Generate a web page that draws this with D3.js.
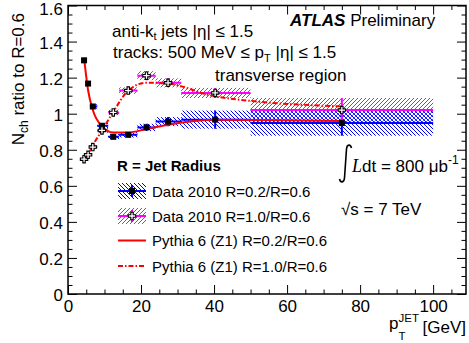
<!DOCTYPE html>
<html>
<head>
<meta charset="utf-8">
<script src="https://cdn.jsdelivr.net/npm/d3@7"></script>
<style>
  body { margin: 0; background: #fff; }
  svg text { font-family: "Liberation Sans", Arial, Helvetica, sans-serif; }
</style>
</head>
<body>
<svg id="chart" width="469" height="343"></svg>
<script>
// jet pT bins (GeV)
const pt = [4.4, 5.5, 6.8, 9.3, 12.4, 16.5, 21.5, 27.4, 40.3, 75]
const ptLo = [4, 5, 6, 8, 11, 14, 19, 24, 31, 50]
const ptHi = [5, 6, 8, 11, 14, 19, 24, 31, 50, 100]

// Data 2010, R=0.2 / R=0.6
const data02 = [1.296, 1.167, 1.04, 0.933, 0.872, 0.883, 0.924, 0.956, 0.967, 0.948]
const err02 = [0.01, 0.01, 0.012, 0.015, 0.015, 0.015, 0.02, 0.025, 0.05, 0.07]

// Data 2010, R=1.0 / R=0.6
const data10 = [0.748, 0.772, 0.815, 0.907, 1.007, 1.128, 1.211, 1.171, 1.115, 1.02]
const err10 = [0.01, 0.01, 0.012, 0.015, 0.015, 0.018, 0.025, 0.025, 0.028, 0.067]

// Pythia 6 (Z1)
const pythia02 = [1.31, 1.13, 1.02, 0.93, 0.896, 0.896, 0.915, 0.939, 0.967, 0.96]
const pythia10 = [0.744, 0.772, 0.825, 0.906, 1.01, 1.128, 1.172, 1.167, 1.096, 1.04]

const xMajor = [0, 20, 40, 60, 80, 100]
const yMajor = [0, 0.2, 0.4, 0.6, 0.8, 1, 1.2, 1.4, 1.6]

const svg = d3.select('#chart')
const frameL = 68, frameR = 466, frameT = 5.5, frameB = 294

const x = d3.scaleLinear().domain([0, 109]).range([frameL, frameR])
const y = d3.scaleLinear().domain([0, 1.6]).range([frameB, frameT])

const BLUE = '#0000ff', MAGENTA = '#ff00ff', RED = '#ff0000'

// hatch patterns
const defs = svg.append('defs')
const hatch = (id, color, d) => {
  defs.append('pattern')
    .attr('id', id)
    .attr('patternUnits', 'userSpaceOnUse')
    .attr('width', 4).attr('height', 4)
    .append('path')
    .attr('d', d)
    .attr('stroke', color)
    .attr('stroke-width', 1)
}
hatch('hatchBlue', BLUE, 'M0,0L4,4M-1,3L1,5M3,-1L5,1')
hatch('hatchMagenta', MAGENTA, 'M0,4L4,0M-1,1L1,-1M3,5L5,3')

defs.append('clipPath').attr('id', 'frame')
  .append('rect')
  .attr('x', frameL).attr('y', frameT)
  .attr('width', frameR - frameL).attr('height', frameB - frameT)

const plot = svg.append('g').attr('clip-path', 'url(#frame)')

const rows = (vals, errs) => pt.map((p, i) => ({ p, lo: ptLo[i], hi: ptHi[i], v: vals[i], e: errs[i] }))
const rows02 = rows(data02, err02)
const rows10 = rows(data10, err10)

// systematic bands
const band = (data, fillId) => {
  plot.append('g')
    .selectAll('rect')
    .data(data)
    .enter()
    .append('rect')
    .attr('x', d => x(d.lo))
    .attr('width', d => x(d.hi) - x(d.lo))
    .attr('y', d => y(d.v + d.e))
    .attr('height', d => y(d.v - d.e) - y(d.v + d.e))
    .attr('fill', `url(#${fillId})`)
}
band(rows02, 'hatchBlue')
band(rows10, 'hatchMagenta')

// error bars
const errorBars = (data, color) => {
  const g = plot.append('g').attr('stroke', color).attr('stroke-width', 2)
  g.selectAll('line.h')
    .data(data)
    .enter()
    .append('line')
    .attr('class', 'h')
    .attr('x1', d => x(d.lo)).attr('x2', d => x(d.hi))
    .attr('y1', d => y(d.v)).attr('y2', d => y(d.v))
  g.selectAll('line.v')
    .data(data)
    .enter()
    .append('line')
    .attr('class', 'v')
    .attr('x1', d => x(d.p)).attr('x2', d => x(d.p))
    .attr('y1', d => y(d.v + d.e)).attr('y2', d => y(d.v - d.e))
}
errorBars(rows02, BLUE)
errorBars(rows10, MAGENTA)

// Pythia curves
const curve = d3.line()
  .x((d, i) => x(pt[i]))
  .y(d => y(d))
  .curve(d3.curveMonotoneX)

plot.append('path')
  .attr('d', curve(pythia02))
  .attr('fill', 'none')
  .attr('stroke', RED)
  .attr('stroke-width', 2)

plot.append('path')
  .attr('d', curve(pythia10))
  .attr('fill', 'none')
  .attr('stroke', RED)
  .attr('stroke-width', 2)
  .attr('stroke-dasharray', '5,2,1.5,2')

// markers
const crossPath = (h, t) =>
  `M${-t},${-h}H${t}V${-t}H${h}V${t}H${t}V${h}H${-t}V${t}H${-h}V${-t}H${-t}Z`

const squares = (g, data) => {
  g.selectAll('rect.sq')
    .data(data)
    .enter()
    .append('rect')
    .attr('class', 'sq')
    .attr('x', d => x(d.p) - 3).attr('y', d => y(d.v) - 3)
    .attr('width', 6).attr('height', 6)
    .attr('fill', '#000')
}
const crosses = (g, data) => {
  g.selectAll('path.cr')
    .data(data)
    .enter()
    .append('path')
    .attr('class', 'cr')
    .attr('transform', d => `translate(${x(d.p)},${y(d.v)})`)
    .attr('d', crossPath(3.7, 1.2))
    .attr('fill', '#fff')
    .attr('stroke', '#000')
    .attr('stroke-width', 1.1)
}
squares(plot, rows02)
crosses(plot, rows10)

// axes with inward ticks
const minorX = d3.range(0, 110, 5).filter(v => v % 20 !== 0)
const minorY = d3.range(0, 33).map(i => i * 0.05).filter(v => Math.abs(v * 5 - Math.round(v * 5)) > 1e-6)

const axis = (gen, transform, values, size, labels) => {
  const g = svg.append('g').attr('transform', transform)
    .call(gen.tickValues(values).tickSize(size).tickPadding(6)
      .tickFormat(labels ? d3.format('') : () => ''))
  g.select('.domain').remove()
  g.selectAll('line').attr('stroke', '#000').attr('stroke-width', 1)
  g.selectAll('text').attr('font-size', 17).attr('fill', '#000')
  return g
}
axis(d3.axisBottom(x), `translate(0,${frameB})`, xMajor, -9, true)
axis(d3.axisBottom(x), `translate(0,${frameB})`, minorX, -4.5, false)
axis(d3.axisTop(x), `translate(0,${frameT})`, xMajor, -9, false)
axis(d3.axisTop(x), `translate(0,${frameT})`, minorX, -4.5, false)
axis(d3.axisLeft(y), `translate(${frameL},0)`, yMajor, -9, true)
  .selectAll('text')
  .attr('dx', 1)
  .attr('dy', d => d === 1.6 ? '0.55em' : '0.38em')
axis(d3.axisLeft(y), `translate(${frameL},0)`, minorY, -4.5, false)
axis(d3.axisRight(y), `translate(${frameR},0)`, yMajor, -9, false)
axis(d3.axisRight(y), `translate(${frameR},0)`, minorY, -4.5, false)

svg.append('rect')
  .attr('x', frameL).attr('y', frameT)
  .attr('width', frameR - frameL).attr('height', frameB - frameT)
  .attr('fill', 'none').attr('stroke', '#000').attr('stroke-width', 1.5)

// axis titles
const yTitle = svg.append('text')
  .attr('transform', 'translate(24,13) rotate(-90)')
  .attr('text-anchor', 'end')
  .attr('font-size', 17)
yTitle.append('tspan').text('N')
yTitle.append('tspan').attr('font-size', 12).attr('dy', 4).text('ch')
yTitle.append('tspan').attr('dy', -4).text(' ratio to R=0.6')

const xTitle = svg.append('g').attr('font-size', 17)
xTitle.append('text').attr('x', frameR).attr('y', 333).attr('text-anchor', 'end').text('[GeV]')
xTitle.append('text').attr('x', 389).attr('y', 329).text('p')
xTitle.append('text').attr('x', 398.5).attr('y', 322).attr('font-size', 11.5).text('JET')
xTitle.append('text').attr('x', 398.5).attr('y', 340).attr('font-size', 11.5).text('T')

// labels
const atlas = svg.append('text').attr('x', 290).attr('y', 26).attr('font-size', 17)
atlas.append('tspan').attr('font-weight', 'bold').attr('font-style', 'italic').text('ATLAS')
atlas.append('tspan').text(' Preliminary')

const l1 = svg.append('text').attr('x', 112).attr('y', 37).attr('font-size', 17)
l1.append('tspan').text('anti-k')
l1.append('tspan').attr('font-size', 11).attr('dy', 3).text('t')
l1.append('tspan').attr('dy', -3).text(' jets |η| ≤ 1.5')

const l2 = svg.append('text').attr('x', 113).attr('y', 58).attr('font-size', 17)
l2.append('tspan').text('tracks: 500 MeV ≤ p')
l2.append('tspan').attr('font-size', 11).attr('dy', 4).text('T')
l2.append('tspan').attr('dy', -4).text(' |η| ≤ 1.5')

svg.append('text').attr('x', 215).attr('y', 81).attr('font-size', 17).text('transverse region')

// integral sign drawn as a stroke, like ROOT's #int
const lumi = svg.append('g')
const integral = d3.path()
integral.moveTo(351.5, 148)
integral.bezierCurveTo(350.5, 144, 347, 144, 346.5, 149)
integral.lineTo(344.5, 178)
integral.bezierCurveTo(344, 183, 340.5, 183, 339.5, 179)
lumi.append('path').attr('d', integral.toString())
  .attr('fill', 'none').attr('stroke', '#000').attr('stroke-width', 1.6)
const lumiText = lumi.append('text').attr('x', 352).attr('y', 172).attr('font-size', 17)
lumiText.append('tspan').attr('font-family', '"Liberation Serif", serif').attr('font-style', 'italic').attr('font-size', 18).text('L')
lumiText.append('tspan').text('dt = 800 μb')
lumiText.append('tspan').attr('font-size', 12).attr('dy', -8).text('-1')

svg.append('text').attr('x', 341).attr('y', 215).attr('font-size', 17).text('√s = 7 TeV')

// legend
svg.append('text').attr('x', 117).attr('y', 171)
  .attr('font-size', 15).attr('font-weight', 'bold').text('R = Jet Radius')

const legend = [
  { label: 'Data 2010 R=0.2/R=0.6', kind: 'data', color: BLUE, fill: 'hatchBlue', marker: 'square' },
  { label: 'Data 2010 R=1.0/R=0.6', kind: 'data', color: MAGENTA, fill: 'hatchMagenta', marker: 'cross' },
  { label: 'Pythia 6 (Z1) R=0.2/R=0.6', kind: 'line', dash: null },
  { label: 'Pythia 6 (Z1) R=1.0/R=0.6', kind: 'line', dash: '5,2,1.5,2' }
]
const legendY = [191, 216, 240.5, 266]

legend.forEach((item, i) => {
  const g = svg.append('g').attr('transform', `translate(118,${legendY[i]})`)
  if (item.kind === 'data') {
    g.append('rect').attr('x', 0).attr('y', -8).attr('width', 28).attr('height', 16)
      .attr('fill', `url(#${item.fill})`)
    g.append('line').attr('x1', 0).attr('x2', 28).attr('y1', 0).attr('y2', 0)
      .attr('stroke', item.color).attr('stroke-width', 2)
    g.append('line').attr('x1', 14).attr('x2', 14).attr('y1', -6).attr('y2', 6)
      .attr('stroke', item.color).attr('stroke-width', 2)
    if (item.marker === 'square') {
      g.append('rect').attr('x', 11).attr('y', -3).attr('width', 6).attr('height', 6).attr('fill', '#000')
    } else {
      g.append('path').attr('transform', 'translate(14,0)').attr('d', crossPath(3.7, 1.2))
        .attr('fill', '#fff').attr('stroke', '#000').attr('stroke-width', 1.1)
    }
  } else {
    g.append('line').attr('x1', 0).attr('x2', 28).attr('y1', 0).attr('y2', 0)
      .attr('stroke', RED).attr('stroke-width', 2)
      .attr('stroke-dasharray', item.dash)
  }
  g.append('text').attr('x', 34).attr('y', 5.5).attr('font-size', 15).text(item.label)
})
</script>
</body>
</html>
